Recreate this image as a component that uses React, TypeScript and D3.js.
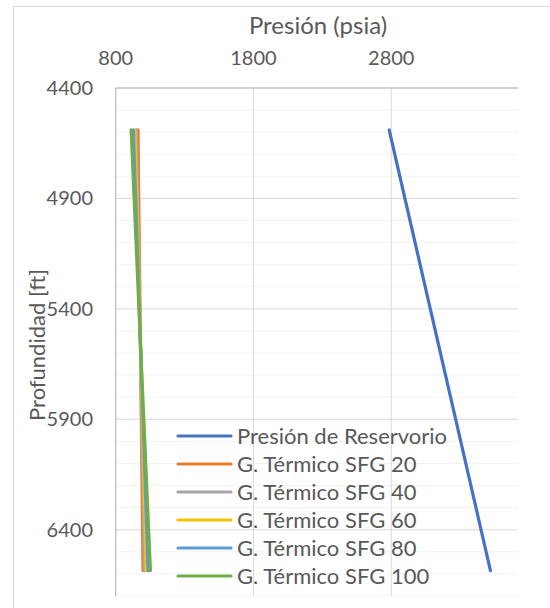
import React, { useRef, useEffect } from 'react';
import * as d3 from 'd3';

// Pressure (psia) vs depth (ft)
const depths = [4590, 6585];
const reservoir = [2785, 3520];
const sfg20 = [962, 998];
const sfg40 = [950, 1010];
const sfg60 = [940, 1022];
const sfg80 = [928, 1035];
const sfg100 = [912, 1052];

const seriesNames = [
  'Presión de Reservorio',
  'G. Térmico SFG 20',
  'G. Térmico SFG 40',
  'G. Térmico SFG 60',
  'G. Térmico SFG 80',
  'G. Térmico SFG 100',
];
const seriesValues = [reservoir, sfg20, sfg40, sfg60, sfg80, sfg100];
const seriesColors = ['#4472C4', '#ED7D31', '#A5A5A5', '#FFC000', '#5B9BD5', '#70AD47'];

const xTicks = [800, 1800, 2800];
const yTicks = [4400, 4900, 5400, 5900, 6400];

export default function App() {
  const svgRef = useRef<SVGSVGElement | null>(null);

  useEffect(() => {
    if (!svgRef.current) return;
    const svg = d3.select(svgRef.current);
    svg.selectAll('*').remove();

    const width = 550;
    const height = 608;
    const plot = { left: 115.7, right: 518, top: 88, bottom: 596 };
    const font = 'Lato, "Open Sans", sans-serif';
    const textColor = '#595959';

    // chart area
    svg.append('rect')
      .attr('x', 13.5).attr('y', 6.5)
      .attr('width', width).attr('height', height)
      .attr('fill', '#fff')
      .attr('stroke', '#D9D9D9');

    const x = d3.scaleLinear().domain([800, 3720]).range([plot.left, plot.right]);
    const y = d3.scaleLinear().domain([4400, 6700]).range([plot.top, plot.bottom]);

    // minor horizontal gridlines every 100 ft (skip majors)
    const minor = d3.range(4500, 6701, 100).filter(d => (d - 4400) % 500 !== 0);
    svg.append('g')
      .selectAll('line')
      .data(minor)
      .enter()
      .append('line')
      .attr('x1', plot.left).attr('x2', plot.right)
      .attr('y1', d => y(d)).attr('y2', d => y(d))
      .attr('stroke', '#F2F2F2')
      .attr('stroke-width', 1);

    // major horizontal gridlines
    svg.append('g')
      .selectAll('line')
      .data(yTicks.slice(1))
      .enter()
      .append('line')
      .attr('x1', plot.left).attr('x2', plot.right)
      .attr('y1', d => y(d)).attr('y2', d => y(d))
      .attr('stroke', '#D9D9D9')
      .attr('stroke-width', 1);

    // vertical gridlines
    svg.append('g')
      .selectAll('line')
      .data(xTicks.slice(1))
      .enter()
      .append('line')
      .attr('x1', d => x(d)).attr('x2', d => x(d))
      .attr('y1', plot.top).attr('y2', plot.bottom)
      .attr('stroke', '#D9D9D9')
      .attr('stroke-width', 1);

    // axis lines
    svg.append('line')
      .attr('x1', plot.left).attr('x2', plot.right)
      .attr('y1', plot.top).attr('y2', plot.top)
      .attr('stroke', '#BFBFBF').attr('stroke-width', 1.3);
    svg.append('line')
      .attr('x1', plot.left).attr('x2', plot.left)
      .attr('y1', plot.top).attr('y2', plot.bottom)
      .attr('stroke', '#BFBFBF').attr('stroke-width', 1.3);

    // tick labels
    svg.append('g')
      .selectAll('text')
      .data(xTicks)
      .enter()
      .append('text')
      .attr('x', d => x(d))
      .attr('y', 65)
      .attr('text-anchor', 'middle')
      .attr('font-family', font)
      .attr('font-size', '20px')
      .attr('fill', textColor)
      .text(d => d);

    svg.append('g')
      .selectAll('text')
      .data(yTicks)
      .enter()
      .append('text')
      .attr('x', 93)
      .attr('y', d => y(d))
      .attr('dy', '0.35em')
      .attr('text-anchor', 'end')
      .attr('font-family', font)
      .attr('font-size', '20px')
      .attr('fill', textColor)
      .text(d => d);

    // axis titles
    svg.append('text')
      .attr('x', 318)
      .attr('y', 34)
      .attr('text-anchor', 'middle')
      .attr('font-family', font)
      .attr('font-size', '24px')
      .attr('fill', textColor)
      .text('Presión (psia)');

    svg.append('text')
      .attr('transform', `translate(45, 345) rotate(-90)`)
      .attr('text-anchor', 'middle')
      .attr('font-family', font)
      .attr('font-size', '22px')
      .attr('fill', textColor)
      .text('Profundidad [ft]');

    // series lines
    const line = d3.line<[number, number]>()
      .x(d => x(d[0]))
      .y(d => y(d[1]));

    seriesValues.forEach((vals, i) => {
      const pts: [number, number][] = vals.map((v, j) => [v, depths[j]]);
      svg.append('path')
        .datum(pts)
        .attr('d', line)
        .attr('fill', 'none')
        .attr('stroke', seriesColors[i])
        .attr('stroke-width', 3.2)
        .attr('stroke-linecap', 'round')
        .attr('stroke-linejoin', 'round');
    });

    // legend
    const legend = svg.append('g');
    seriesNames.forEach((name, i) => {
      const ly = 436 + i * 28;
      legend.append('line')
        .attr('x1', 178).attr('x2', 231)
        .attr('y1', ly).attr('y2', ly)
        .attr('stroke', seriesColors[i])
        .attr('stroke-width', 3.2)
        .attr('stroke-linecap', 'round');
      legend.append('text')
        .attr('x', 237)
        .attr('y', ly)
        .attr('dy', '0.36em')
        .attr('font-family', font)
        .attr('font-size', '22px')
        .attr('fill', textColor)
        .text(name);
    });
  }, []);

  return (
    <svg
      ref={svgRef}
      width={550}
      height={608}
      style={{ position: 'absolute', left: 0, top: 0, background: '#fff' }}
    />
  );
}
